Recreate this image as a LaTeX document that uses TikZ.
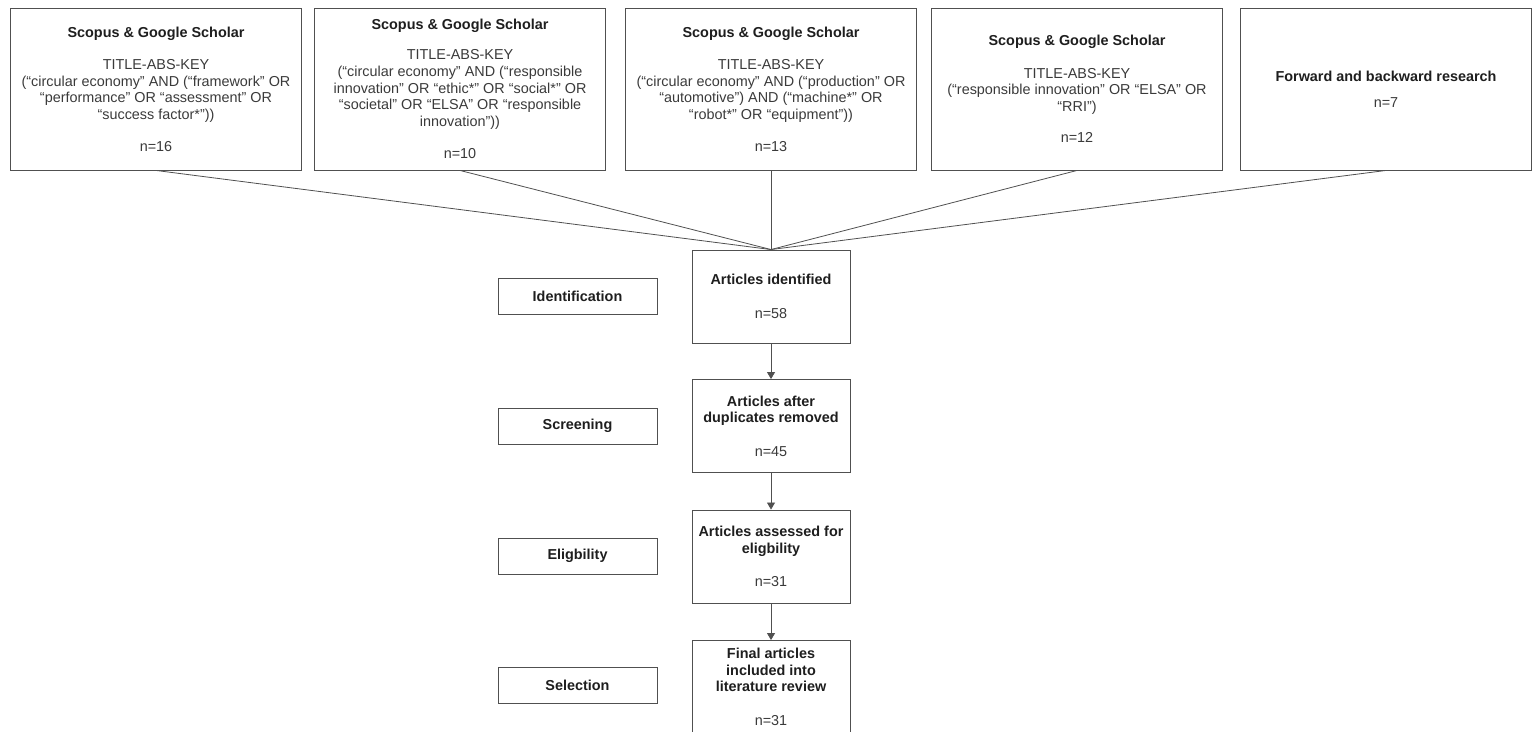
\documentclass[tikz,border=0pt]{standalone}
\usepackage{fontspec}
\setmainfont{Liberation Sans}
\usepackage{tikz}
\usetikzlibrary{arrows.meta}
\definecolor{boxgray}{HTML}{505050}
\definecolor{txtgray}{HTML}{3A3A3A}
\definecolor{headgray}{HTML}{1E1E1E}
\newcommand{\hd}[1]{\textbf{\color{headgray}#1}}

\begin{document}
\begin{tikzpicture}[x=1pt,y=-1pt]
		\tikzstyle{every node}+=[inner sep=0pt, font=\fontsize{14.4}{16.6}\selectfont, text=txtgray]
		\tikzstyle{src}=[draw=boxgray, line width=0.9pt, minimum width=291, minimum height=162, align=center]
		\tikzstyle{flow}=[draw=boxgray, line width=0.9pt, minimum width=158, minimum height=93, align=center]
		\tikzstyle{stage}=[draw=boxgray, line width=0.9pt, minimum width=159, minimum height=36, align=center, font=\fontsize{14.4}{16.6}\selectfont\bfseries, text=headgray]
		\tikzstyle{link}=[draw=boxgray, line width=0.8pt]
		\tikzstyle{flowarrow}=[link, -{Triangle[length=7pt,width=8pt]}]
		\useasboundingbox (0,0) rectangle (1533,731);
		\node[src] (s1) at (156,89) {\hd{Scopus \& Google Scholar}\\[16pt]TITLE-ABS-KEY\\(“circular economy” AND (“framework” OR\\“performance” OR “assessment” OR\\“success factor*”))\\[15pt]n=16};
		\node[src] (s2) at (460,89) {\hd{Scopus \& Google Scholar}\\[14pt]TITLE-ABS-KEY\\(“circular economy” AND (“responsible\\innovation” OR “ethic*” OR “social*” OR\\“societal” OR “ELSA” OR “responsible\\innovation”))\\[16pt]n=10};
		\node[src] (s3) at (771,89) {\hd{Scopus \& Google Scholar}\\[16pt]TITLE-ABS-KEY\\(“circular economy” AND (“production” OR\\“automotive”) AND (“machine*” OR\\“robot*” OR “equipment”))\\[15pt]n=13};
		\node[src] (s4) at (1077,89) {\hd{Scopus \& Google Scholar}\\[16pt]TITLE-ABS-KEY\\(“responsible innovation” OR “ELSA” OR\\“RRI”)\\[15pt]n=12};
		\node[src] (s5) at (1386,89) {\hd{Forward and backward research}\\[9pt]n=7};
		\node[flow] (ident) at (771,296.5) {\hd{Articles identified}\\[17pt]n=58};
		\node[flow] (dup) at (771,426) {\hd{Articles after}\\\hd{duplicates removed}\\[17pt]n=45};
		\node[flow] (elig) at (771,556.5) {\hd{Articles assessed for}\\\hd{eligbility}\\[17pt]n=31};
		\node[flow] (final) at (771,687) {\hd{Final articles}\\\hd{included into}\\\hd{literature review}\\[17pt]n=31};
		\node[stage] (st1) at (577.5,296) {Identification};
		\node[stage] (st2) at (577.5,426) {Screening};
		\node[stage] (st3) at (577.5,556) {Eligbility};
		\node[stage] (st4) at (577.5,685.5) {Selection};
		\foreach \s in {s1,s2,s3,s4,s5}
			\draw[link] (\s.south) -- (ident.north);
		\draw[flowarrow] (ident) -- (dup);
		\draw[flowarrow] (dup) -- (elig);
		\draw[flowarrow] (elig) -- (final);
\end{tikzpicture}
\end{document}
